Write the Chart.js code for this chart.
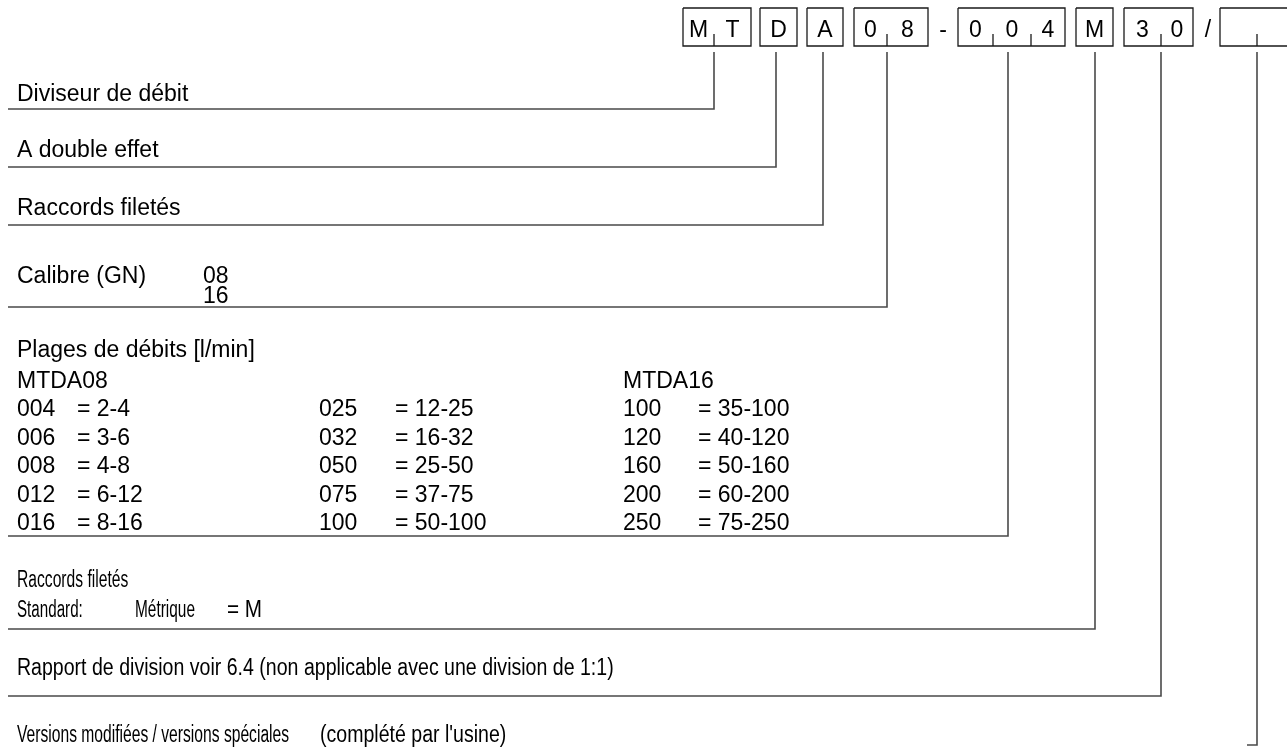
<!DOCTYPE html>
<html>
<head>
<meta charset="utf-8">
<script src="https://cdn.jsdelivr.net/npm/chart.js@4/dist/chart.umd.min.js"></script>
<style>
  html, body { margin: 0; padding: 0; background: #fff; }
  #wrap { width: 1287px; height: 751px; }
</style>
</head>
<body>
<div id="wrap"><canvas id="typeCode"></canvas></div>
<script>
// type code content
const codeGroups = [['M', 'T'], ['D'], ['A'], ['0', '8'], ['0', '0', '4'], ['M'], ['3', '0'], ['', '']];
const separators = ['-', '/'];
const sectionTitles = ['Diviseur de débit', 'A double effet', 'Raccords filetés', 'Calibre (GN)',
  'Plages de débits', 'Raccords filetés', 'Rapport de division', 'Versions modifiées / versions spéciales'];
const sectionNotes = ['', '', '', '', '[l/min]', '', 'voir 6.4 (non applicable avec une division de 1:1)', "(complété par l'usine)"];
const calibres = ['08', '16'];
const tableHeaders = ['MTDA08', 'MTDA16'];
const codesA = ['004', '006', '008', '012', '016'];
const rangesA = ['2-4', '3-6', '4-8', '6-12', '8-16'];
const codesB = ['025', '032', '050', '075', '100'];
const rangesB = ['12-25', '16-32', '25-50', '37-75', '50-100'];
const codesC = ['100', '120', '160', '200', '250'];
const rangesC = ['35-100', '40-120', '50-160', '60-200', '75-250'];
const threadRow = ['Standard:', 'Métrique', '= M'];

// layout (page units = pixels)
const W = 1287, H = 751;
const boxLeft = [683, 760, 807, 854, 958, 1076, 1124, 1220];
const boxRight = [751, 797, 843, 928, 1065, 1113, 1193, 1290];
const cellTicks = [[714], [], [], [887], [993, 1031], [], [1161], [1257]];
const boxTop = 8, boxBottom = 46, tickTop = 34;
const sepX = [943, 1208];
const leaderX = [714, 776, 823, 887, 1008, 1095, 1161, 1257];
const leaderTop = 52;
const lineY = [109, 167, 225, 307, 536, 629, 696, 745];
const lineLeft = 8;
const titleY = [101, 157, 215, 283, 357, 587, 675, 742];
// horizontal squeeze of the lower captions (title, note)
const titleScale = [1, 1, 1, 1, 1, 0.68, 0.85, 0.68];
const noteScale = [1, 1, 1, 1, 1, 1, 0.85, 0.85];
const textX = 17;
const colX = [[17, 77], [319, 395], [623, 698]];
const rowY0 = 416, rowStep = 28.5, headerY = 388;
const threadX = [17, 135, 227], threadY = 617, threadScale = [0.66, 0.67, 0.9];

const LINE = '#4a4a4a';
const FONT = '"Liberation Sans", Arial, sans-serif';

const datasets = [];
codeGroups.forEach((g, i) => {
  datasets.push({
    data: [{x: boxLeft[i], y: boxTop}, {x: boxRight[i], y: boxTop}, {x: boxRight[i], y: boxBottom},
           {x: boxLeft[i], y: boxBottom}, {x: boxLeft[i], y: boxTop}],
    borderColor: '#1a1a1a', borderWidth: 1.3
  });
  cellTicks[i].forEach(t => datasets.push({
    data: [{x: t, y: tickTop}, {x: t, y: boxBottom}], borderColor: '#1a1a1a', borderWidth: 1.3
  }));
  const pts = [{x: leaderX[i], y: leaderTop}, {x: leaderX[i], y: lineY[i]}];
  if (i < codeGroups.length - 1) pts.push({x: lineLeft, y: lineY[i]});
  else pts.push({x: leaderX[i] - 10, y: lineY[i]});
  datasets.push({data: pts, borderColor: LINE, borderWidth: 1.6});
});

const textPlugin = {
  id: 'typeText',
  afterDatasetsDraw(chart) {
    const {ctx, scales: {x, y}} = chart;
    const px = v => x.getPixelForValue(v), py = v => y.getPixelForValue(v);
    // draws text squeezed by sx, returns its width in page units
    const put = (t, vx, vy, sx = 1) => {
      ctx.save();
      ctx.translate(px(vx), py(vy));
      ctx.scale(sx, 1);
      ctx.fillText(t, 0, 0);
      ctx.restore();
      return ctx.measureText(t).width * sx;
    };
    ctx.save();
    ctx.fillStyle = '#000';
    ctx.textBaseline = 'alphabetic';
    ctx.font = '23px ' + FONT;
    // characters in the boxes
    ctx.textAlign = 'center';
    codeGroups.forEach((g, i) => {
      const edges = [boxLeft[i]];
      if (cellTicks[i].length === g.length - 1) edges.push(...cellTicks[i]);
      else for (let j = 1; j < g.length; j++) edges.push(boxLeft[i] + j * (boxRight[i] - boxLeft[i]) / g.length);
      edges.push(boxRight[i]);
      g.forEach((c, j) => ctx.fillText(c, px((edges[j] + edges[j + 1]) / 2), py(37)));
    });
    separators.forEach((s, i) => ctx.fillText(s, px(sepX[i]), py(37)));
    // titles + notes
    ctx.textAlign = 'left';
    sectionTitles.forEach((t, i) => {
      const w = put(t, textX, titleY[i], titleScale[i]);
      if (sectionNotes[i]) {
        const gap = ctx.measureText(' ').width * noteScale[i];
        const nx = i === 7 ? 320 : textX + w + gap;
        put(sectionNotes[i], nx, titleY[i], noteScale[i]);
      }
    });
    calibres.forEach((c, i) => put(c, 203, 283 + i * 20));
    put(tableHeaders[0], colX[0][0], headerY);
    put(tableHeaders[1], colX[2][0], headerY);
    [[codesA, rangesA], [codesB, rangesB], [codesC, rangesC]].forEach(([cs, rs], k) => {
      cs.forEach((c, r) => {
        put(c, colX[k][0], rowY0 + r * rowStep);
        put('= ' + rs[r], colX[k][1], rowY0 + r * rowStep);
      });
    });
    threadRow.forEach((t, i) => put(t, threadX[i], threadY, threadScale[i]));
    ctx.restore();
  }
};

new Chart(document.getElementById('typeCode').getContext('2d'), {
  type: 'scatter',
  data: {datasets: datasets.map(d => Object.assign({showLine: true, pointRadius: 0, fill: false, tension: 0}, d))},
  options: {
    responsive: true,
    maintainAspectRatio: false,
    animation: false,
    events: [],
    layout: {padding: 0},
    plugins: {legend: {display: false}, tooltip: {enabled: false}},
    scales: {
      x: {type: 'linear', display: false, min: 0, max: W},
      y: {type: 'linear', display: false, min: 0, max: H, reverse: true}
    }
  },
  plugins: [textPlugin]
});
</script>
</body>
</html>
